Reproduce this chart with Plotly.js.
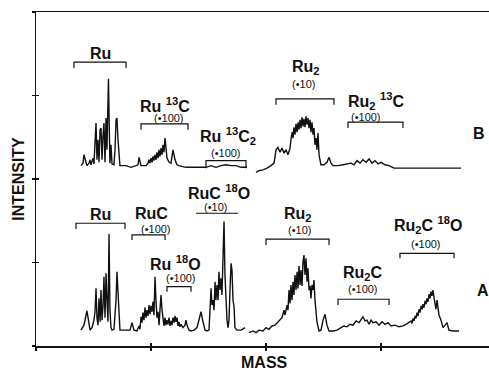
<!DOCTYPE html>
<html><head><meta charset="utf-8">
<script src="https://cdn.plot.ly/plotly-3.0.1.min.js"></script>
<style>html,body{margin:0;padding:0;background:#fff;overflow:hidden}#chart{width:489px;height:370px}</style>
</head><body><div id="chart"></div>
<script>
// Spectrum B (upper), arbitrary mass / intensity units; null = break in the recorded trace
const massB = [39.1,40.9,41.7,43.5,44.3,46.1,47.0,47.8,48.7,49.6,50.4,51.3,52.2,53.0,53.9,54.8,55.7,56.5,57.4,58.3,59.1,60.0,60.9,61.7,62.6,63.0,63.9,64.3,65.2,66.1,67.8,68.7,69.6,70.4,71.3,72.2,73.0,
  78.3,82.6,87.0,88.7,89.6,91.3,95.7,
  97.4,98.3,99.1,100.0,100.9,101.7,102.6,103.5,104.3,105.2,106.1,107.0,107.8,108.7,109.6,110.4,111.3,112.2,113.0,113.9,
  115.7,117.4,119.1,120.9,122.6,124.3,
  130.4,139.1,147.8,152.2,156.5,160.9,165.2,169.6,173.9,178.3,183.5,
  null,
  191.3,193.9,197.4,200.9,204.3,207.0,208.7,210.4,212.2,213.9,215.7,217.4,219.1,220.9,221.7,222.6,223.5,224.3,225.2,226.1,
  227.0,227.8,228.7,229.6,230.4,231.3,232.2,233.0,233.9,234.8,235.7,236.5,237.4,238.3,239.1,240.0,240.9,241.7,242.6,243.5,
  244.3,245.2,246.1,247.0,247.8,250.4,253.0,254.8,256.5,258.3,262.6,267.0,270.4,273.9,276.5,279.1,281.7,284.3,287.0,289.6,
  292.2,294.8,297.4,300.0,303.5,307.0,311.3,334.8,352.2,369.6];
const intensityB = [216,219,229,219,216,219,223,217,220,225,218,249,267,223,247,220,259,261,223,253,267,220,273,235,285,320,247,219,241,218,217,235,271,273,247,223,216,
  216,214,216,217,226,216,216,
  219,223,219,225,220,227,222,229,223,232,225,235,227,237,229,241,232,249,232,225,
  220,219,235,223,217,216,
  214,214,214,216,214,216,217,216,216,214,214,
  null,
  208,210,211,213,216,219,235,238,232,237,231,235,229,237,247,256,249,262,253,266,
  256,268,259,271,261,274,263,272,262,275,265,273,261,271,256,268,253,261,241,249,
  235,255,229,220,217,217,220,226,219,216,216,217,218,219,217,222,219,223,220,224,
  219,222,218,220,217,216,213,213,213,213];

// Spectrum A (lower)
const massA = [39.1,41.7,44.3,46.1,47.0,48.7,50.4,51.3,52.2,53.0,
  53.9,54.8,55.7,56.5,57.4,58.3,59.1,60.0,60.9,61.7,
  62.6,63.5,64.3,65.2,66.1,67.8,69.6,70.4,71.3,72.2,
  73.0,78.3,81.7,83.5,85.2,87.8,89.6,90.4,91.3,92.2,
  93.0,93.9,94.8,95.7,96.5,97.4,98.3,99.1,100.0,100.9,
  101.7,102.6,103.5,104.3,105.2,106.1,107.0,107.8,108.7,109.6,
  110.4,111.3,112.2,113.0,113.9,114.8,115.7,116.5,117.4,118.3,
  119.1,120.0,120.9,121.7,122.6,123.5,124.3,125.2,126.1,127.8,
  129.6,130.4,131.3,133.0,134.8,137.4,140.0,141.7,143.5,145.2,
  147.0,148.7,150.4,151.3,152.2,153.0,153.9,154.8,155.7,156.5,
  157.4,158.3,159.1,160.0,160.9,161.7,162.6,163.5,164.3,165.2,
  166.1,167.0,167.8,168.7,169.6,170.4,171.3,172.2,173.0,174.8,
  178.3,181.7,
  null,
  185.2,188.7,191.3,193.9,197.4,200.0,202.6,205.2,207.8,210.4,
  212.2,213.9,215.7,216.5,218.3,219.1,220.0,220.9,221.7,222.6,
  223.5,224.3,225.2,226.1,227.0,227.8,228.7,229.6,230.4,231.3,
  232.2,233.0,233.9,234.8,235.7,236.5,237.4,238.3,239.1,240.0,
  240.9,241.7,242.6,243.5,244.3,246.1,247.8,249.6,251.3,253.0,
  254.8,258.3,261.7,265.2,267.8,270.4,273.0,275.7,278.3,280.9,
  282.6,284.3,286.1,287.8,289.6,291.3,293.0,295.7,298.3,300.9,
  303.5,306.1,308.7,312.2,315.7,319.1,321.7,324.3,
  326.1,327.0,327.8,328.7,329.6,330.4,331.3,332.2,333.0,333.9,
  334.8,335.7,336.5,337.4,338.3,339.1,340.0,340.9,341.7,342.6,
  343.5,344.3,345.2,346.1,347.0,347.8,348.7,349.6,350.4,
  352.2,353.9,355.7,357.4,359.1,362.6,367.8];
const intensityA = [19,25,42,25,19,22,31,41,69,34,
  25,57,29,67,31,49,83,34,87,55,
  29,134,43,22,19,20,55,89,61,31,
  19,19,19,28,19,18,24,20,35,28,
  40,31,46,34,43,36,49,38,48,41,
  53,37,83,55,34,41,25,43,61,43,
  29,24,34,25,31,26,34,24,30,25,
  34,28,36,29,34,24,29,23,26,22,
  25,31,25,19,18,19,22,31,41,29,
  19,18,19,43,69,49,55,43,77,55,
  73,55,89,67,81,61,97,149,85,51,
  31,22,31,67,99,91,55,47,22,19,
  19,22,
  null,
  16,18,16,19,18,22,20,24,25,29,
  31,34,43,37,49,43,67,51,73,55,
  77,61,85,67,89,69,96,73,91,72,
  101,109,85,105,77,93,67,72,57,73,
  67,79,55,43,29,18,19,31,38,25,
  18,18,19,22,24,23,26,25,30,28,
  32,35,30,31,26,31,28,29,25,29,
  26,28,24,25,23,24,26,29,
  30,27,33,30,36,33,40,36,44,40,
  48,44,50,46,54,50,57,53,62,57,
  65,60,67,58,52,44,55,46,37,
  31,22,25,28,19,18,18];

// Peak-group labels and the mass window each bracket spans
const groupLabels = ["Ru","Ru <sup>13</sup>C","Ru <sup>13</sup>C<sub>2</sub>","Ru<sub>2</sub>","Ru<sub>2</sub> <sup>13</sup>C",
                     "Ru","RuC","Ru <sup>18</sup>O","RuC <sup>18</sup>O","Ru<sub>2</sub>","Ru<sub>2</sub>C","Ru<sub>2</sub>C <sup>18</sup>O"];
const groupScales = ["","(•100)","(•100)","(•10)","(•100)","","(•100)","(•100)","(•10)","(•10)","(•100)","(•100)"];
const groupMassStart = [33.0,91.3,147.8,208.7,271.3, 34.8,83.5,113.9,139.1,200.0,262.6,316.5];
const groupMassEnd   = [78.3,132.2,182.6,259.1,319.1, 77.4,112.2,134.8,175.7,254.8,307.0,363.5];
const panelNames = ["B","A"];
const axisNames = ["MASS","INTENSITY"];

// layout-only placement of the labels (data units)
const labelPos = [[56.5,350],[112.2,289],[167,252],[234.8,334],[295.7,294],
                  [56.5,157],[100,159],[121,100],[159,185],[227.8,158],[284.3,87],[341,145]];
const scalePos = [null,[115.7,273],[165.2,231],[233,314],[287,274],
                  null,[104.3,140],[126.1,82],[156.5,167],[228.7,139],[284.3,68],[339.1,122]];
const bracketLevel = [340,266,222,296,268, 147,133,71,159,128,56,111];
const bracketDrop  = [7,7,9,7,7, 7,6,6,0,7,7,6];
const panelPos = [[385.2,254],[388.7,67]];

const FONT = "Liberation Sans, Arial, Helvetica, sans-serif";
const traces = [
  {x: massB, y: intensityB, mode: "lines", line: {color: "#111", width: 1.4}, connectgaps: false, hoverinfo: "skip"},
  {x: massA, y: intensityA, mode: "lines", line: {color: "#111", width: 1.4}, connectgaps: false, hoverinfo: "skip"},
  {x: [null], y: [null], xaxis: "x2", yaxis: "y2", mode: "lines", showlegend: false}
];

const annotations = [];
const shapes = [];
groupLabels.forEach((t, i) => {
  annotations.push({x: labelPos[i][0], y: labelPos[i][1], text: "<b>" + t + "</b>", showarrow: false,
    xanchor: "center", yanchor: "middle", font: {family: FONT, size: 16, color: "#111"}});
  if (groupScales[i]) {
    annotations.push({x: scalePos[i][0], y: scalePos[i][1], text: groupScales[i], showarrow: false,
      xanchor: "center", yanchor: "middle", font: {family: FONT, size: 11, color: "#111"}});
  }
  const x0 = groupMassStart[i], x1 = groupMassEnd[i], yb = bracketLevel[i], yd = yb - bracketDrop[i];
  shapes.push({type: "path", xref: "x", yref: "y",
    path: `M ${x0},${yd} L ${x0},${yb} L ${x1},${yb} L ${x1},${yd}`,
    line: {color: "#111", width: 1.2}});
});
panelNames.forEach((p, i) => {
  annotations.push({x: panelPos[i][0], y: panelPos[i][1], text: "<b>" + p + "</b>", showarrow: false,
    xanchor: "center", yanchor: "middle", font: {family: FONT, size: 16, color: "#111"}});
});
// x-axis title placed as a paper annotation so it can sit lower than the default title slot
annotations.push({xref: "paper", yref: "paper", x: 0.505, y: 0, yanchor: "top", yshift: -6,
  text: "<b>" + axisNames[0] + "</b>", showarrow: false, font: {family: FONT, size: 16, color: "#111"}});

const xr = [0, 393.9], yr = [0, 400];
const layout = {
  width: 489, height: 370,
  margin: {l: 36, r: 0, t: 12, b: 24, pad: 0},
  paper_bgcolor: "#fff", plot_bgcolor: "#fff",
  showlegend: false,
  xaxis: {range: xr, showgrid: false, zeroline: false, showline: true, mirror: true, linecolor: "#111", linewidth: 1.5,
    ticks: "outside", ticklen: 3, tickwidth: 1.3, tickcolor: "#111", tick0: 0, dtick: 100, showticklabels: false},
  yaxis: {range: yr, showgrid: false, zeroline: false, showline: true, linecolor: "#111", linewidth: 1.5,
    ticks: "outside", ticklen: 3, tickwidth: 1.3, tickcolor: "#111", tick0: 0, dtick: 100, showticklabels: false,
    title: {text: "<b>" + axisNames[1] + "</b>", standoff: 3, font: {family: FONT, size: 16, color: "#111"}}},
  xaxis2: {range: xr, overlaying: "x", showgrid: false, zeroline: false, showline: false,
    ticks: "inside", ticklen: 3, tickwidth: 1.3, tickcolor: "#111", tick0: 0, dtick: 100, showticklabels: false},
  yaxis2: {range: yr, overlaying: "y", showgrid: false, zeroline: false, showline: false,
    ticks: "inside", ticklen: 3, tickwidth: 1.3, tickcolor: "#111", tick0: 0, dtick: 100, showticklabels: false},
  annotations: annotations,
  shapes: shapes
};
Plotly.newPlot("chart", traces, layout, {staticPlot: true, displayModeBar: false});
</script>
</body></html>
